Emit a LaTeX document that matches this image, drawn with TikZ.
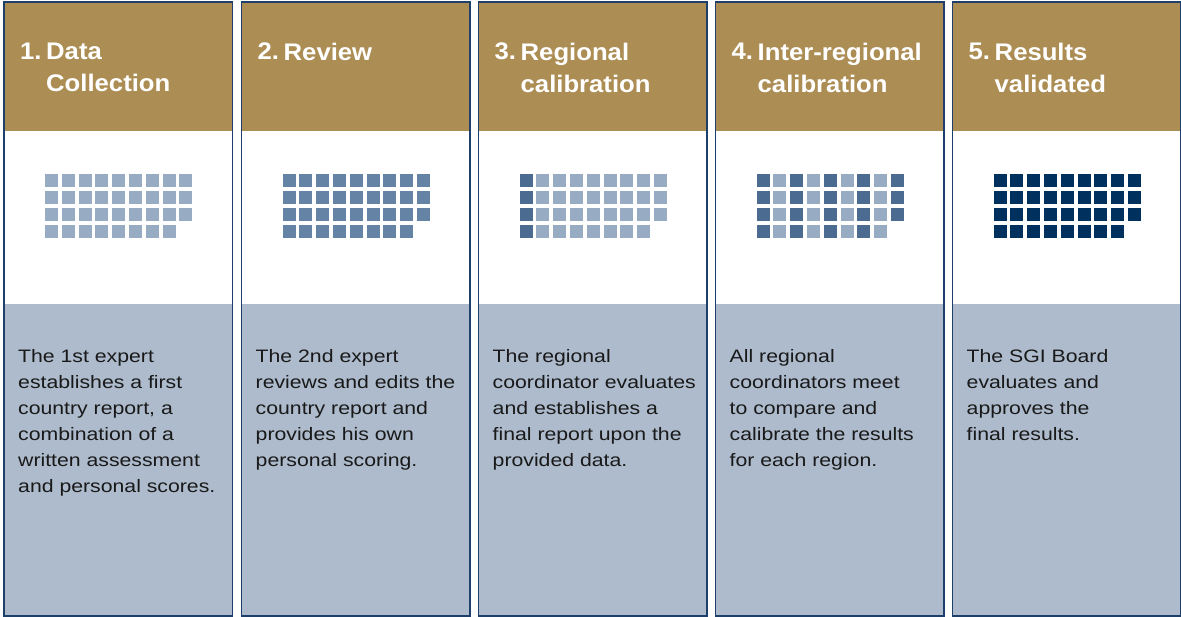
\documentclass[tikz,border=0pt]{standalone}
\usepackage{fontspec}
\setmainfont{Liberation Sans}
\newfontfamily\headfont[FakeStretch=1.07]{Liberation Sans}
\newfontfamily\bodyfont[FakeStretch=1.18]{Liberation Sans}
\usetikzlibrary{positioning}

\definecolor{gold}{HTML}{AC8E55}
\definecolor{band}{HTML}{ADBBCC}
\definecolor{frame}{HTML}{1F3F6B}
\definecolor{sqlight}{HTML}{97ACC3}
\definecolor{sqmid}{HTML}{6583A4}
\definecolor{sqdark}{HTML}{4B6C90}
\definecolor{sqnavy}{HTML}{00305E}

\begin{document}
\begin{tikzpicture}[x = 1pt, y = -1pt,
    head/.style = {anchor = north west, fill = gold, minimum width = 228pt, minimum height = 129pt, inner sep = 0pt},
    icon/.style = {fill = white, minimum width = 228pt, minimum height = 172pt, inner sep = 0pt},
    body/.style = {fill = band, minimum width = 228pt, minimum height = 312pt, inner sep = 0pt},
    num/.style = {anchor = base west, inner sep = 0pt, text = white, font = \headfont\fontsize{24}{32}\selectfont\bfseries},
    title/.style = {anchor = north west, inner sep = 0pt, align = left, text = white, font = \headfont\fontsize{24}{32}\selectfont\bfseries},
    info/.style = {anchor = north west, inner sep = 0pt, align = left, text = black!90, font = \bodyfont\fontsize{18}{26}\selectfont},
    outline/.style = {draw = frame, line width = 1.6pt}]
  \useasboundingbox (0, 0) rectangle (1181, 617);
  % the five steps
  \foreach \p/\xo/\ttl/\txt in {
      1/4/{Data\\Collection}/{The 1st expert\\establishes a first\\country report, a\\combination of a\\written assessment\\and personal scores.},
      2/241.5/{Review}/{The 2nd expert\\reviews and edits the\\country report and\\provides his own\\personal scoring.},
      3/478.5/{Regional\\calibration}/{The regional\\coordinator evaluates\\and establishes a\\final report upon the\\provided data.},
      4/715.5/{Inter-regional\\calibration}/{All regional\\coordinators meet\\to compare and\\calibrate the results\\for each region.},
      5/952.5/{Results\\validated}/{The SGI Board\\evaluates and\\approves the\\final results.}} {
    \node [head] (h\p) at (\xo, 2){};
    \node [icon, below = 0pt of h\p] (m\p){};
    \node [body, below = 0pt of m\p] (b\p){};
    \draw [outline] (h\p.north west) rectangle (b\p.south east);
    \node [num] (n\p) at (\xo + 16, 60){\p.};
    \node [title] (t\p) at (\xo + 42, 42.5){\ttl};
    \node [info] (i\p) at (\xo + 14, 349){\txt};
    % squares
    \foreach \r in {0,...,3}
      \foreach \c in {0,...,8} {
        \ifcase\p\relax\or\def\sqc{sqlight}\or\def\sqc{sqmid}\or
          \ifnum\c=0 \def\sqc{sqdark}\else\def\sqc{sqlight}\fi
        \or\ifodd\c\def\sqc{sqlight}\else\def\sqc{sqdark}\fi
        \or\def\sqc{sqnavy}\fi
        \ifnum\numexpr\r*9+\c\relax<35
          \fill [\sqc] (\xo + 41 + 16.8*\c, 174 + 17*\r) rectangle ++(13, 13);
        \fi
      }
  }
\end{tikzpicture}
\end{document}
